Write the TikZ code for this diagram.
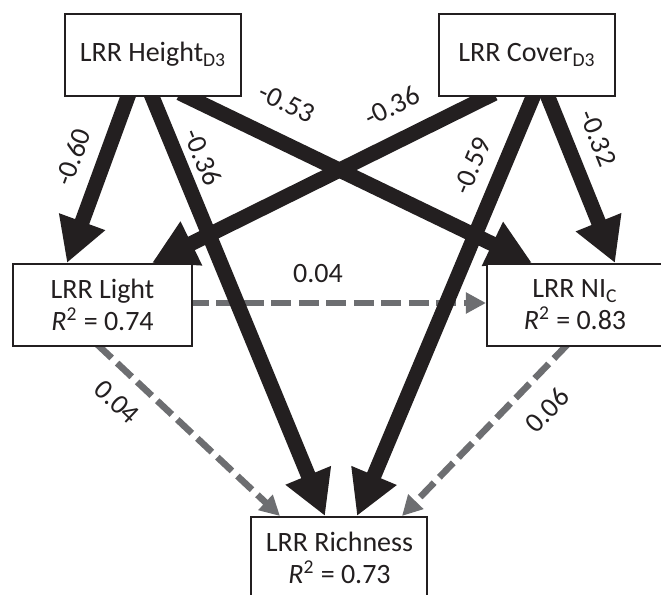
\documentclass[tikz,border=0pt]{standalone}
\usepackage{fontspec}
\setmainfont{Carlito}
\usetikzlibrary{arrows.meta,calc,backgrounds}
\definecolor{ink}{HTML}{231F20}
\definecolor{gry}{HTML}{6D6E71}
\begin{document}
\begin{tikzpicture}[x=0.5pt,y=-0.5pt,
  box/.style={draw=ink,line width=1pt,fill=white,minimum width=88pt,minimum height=41pt,inner sep=0pt,align=center,text=ink,font=\fontsize{14}{16}\selectfont},
  lbl/.style={text=ink,font=\fontsize{14}{16}\selectfont,inner sep=0pt},
  blk/.style={draw=ink,line width=7.5pt,-{Triangle[width=23pt,length=22pt]},shorten <=-4pt},
  dsh/.style={draw=gry,line width=3.3pt,dash pattern=on 10pt off 3.75pt,-{Triangle[width=10pt,length=10pt]},shorten <=-2pt}]
\useasboundingbox (0,0) rectangle (661,595);
\node[box] (h) at (153,54.5) {LRR Height\textsubscript{D3}};
\node[box] (c) at (527,55) {LRR Cover\textsubscript{D3}};
\node[box,minimum width=89.5pt] (l) at (102.5,305) {LRR Light\\\textit{R}\textsuperscript{2} = 0.74};
\node[box] (n) at (575,305) {LRR NI\textsubscript{C}\\\textit{R}\textsuperscript{2} = 0.83};
\node[box] (r) at (339.5,558) {LRR Richness\\\textit{R}\textsuperscript{2} = 0.73};
\node[lbl,rotate=70] (t1) at (73,157) {-0.60};
\node[lbl,rotate=-67.7] (t2) at (203,157) {-0.36};
\node[lbl,rotate=-26] (t3) at (287,103) {-0.53};
\node[lbl,rotate=26.5] (t4) at (392,106) {-0.36};
\node[lbl,rotate=67.3] (t5) at (472,166) {-0.59};
\node[lbl,rotate=-68.3] (t6) at (598,138) {-0.32};
\node[lbl] (t7) at (318,273.5) {0.04};
\node[lbl,rotate=-43.5] (t8) at (117,402) {0.04};
\node[lbl,rotate=46.2] (t9) at (547,410) {0.06};
\begin{pgfonlayer}{background}
\draw[dsh] ($(l.east)+(0,-2)$) -- ($(n.west)+(0,-2)$);
\draw[dsh] ($(l.south)+(-2.5,0)$) -- ($(r.north)+(-59.5,0)$);
\draw[dsh] ($(n.south)+(-10,0)$) -- ($(r.north)+(62.5,0)$);
\draw[blk] ($(h.south)+(-25,0)$) -- ($(l.north)+(-35.5,0)$);
\draw[blk] ($(h.south)+(-1,0)$) -- ($(r.north)+(-14.5,0)$);
\draw[blk] ($(h.south)+(34,0)$) -- ($(n.north)+(-43,0)$);
\draw[blk] ($(c.south)+(-40,0)$) -- ($(l.north)+(49.5,0)$);
\draw[blk] ($(c.south)+(6,0)$) -- ($(r.north)+(17.5,0)$);
\draw[blk] ($(c.south)+(21,0)$) -- ($(n.north)+(40,0)$);
\end{pgfonlayer}
\end{tikzpicture}
\end{document}
